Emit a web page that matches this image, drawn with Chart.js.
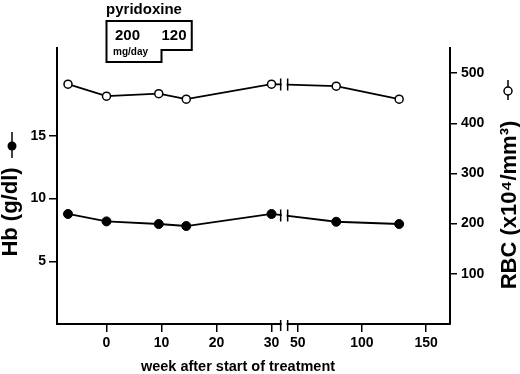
<!DOCTYPE html>
<html>
<head>
<meta charset="utf-8">
<script src="https://cdn.jsdelivr.net/npm/chart.js@4/dist/chart.umd.min.js"></script>
<style>
  html, body { margin: 0; padding: 0; background: #fff; }
</style>
</head>
<body>
<canvas id="chart" width="520" height="374"></canvas>
<script>
const weeks = [-7, 0, 9.5, 14.5, 30, 80, 129];
const hbValues = [8.77, 8.18, 7.97, 7.81, 8.77, 8.15, 7.97];
const rbcValues = [478, 454, 459, 448, 478, 474, 448];
const weekTicks = [0, 10, 20, 30, 50, 100, 150];
const hbTicks = [5, 10, 15];
const rbcTicks = [100, 200, 300, 400, 500];
const doseWeeks = [0, 10, 15.5];
const doseLabels = ["200", "120"];

// broken x axis: weeks before the break keep their value, later weeks are squeezed
const BREAK_AT = 50, BREAK_POS = 34.76, SQUEEZE = 0.2335, BREAK_MARK = 32.3;
function axisPos(w) { return w < 40 ? w : BREAK_POS + (w - BREAK_AT) * SQUEEZE; }

const FONT = "Liberation Sans";
Chart.defaults.font.family = FONT;
Chart.defaults.color = "#000";

function points(values) {
  return weeks.map((w, i) => ({ x: axisPos(w), y: values[i] }));
}

const decor = {
  id: "decor",
  afterDraw(chart) {
    const ctx = chart.ctx, x = chart.scales.x, area = chart.chartArea;
    const xb = x.getPixelForValue(BREAK_MARK), gap = 3.5;
    ctx.save();
    ctx.strokeStyle = "#000";
    ctx.fillStyle = "#fff";

    // break marks on each series line
    chart.data.datasets.forEach((ds, i) => {
      const pts = chart.getDatasetMeta(i).data;
      const a = pts[4], b = pts[5];
      const yb = a.y + (b.y - a.y) * (xb - a.x) / (b.x - a.x);
      ctx.fillStyle = "#fff";
      ctx.fillRect(xb - gap + 1, yb - 8, 2 * gap - 2, 16);
      ctx.lineWidth = 1.5;
      ctx.beginPath();
      ctx.moveTo(xb - gap, yb - 6); ctx.lineTo(xb - gap, yb + 6);
      ctx.moveTo(xb + gap, yb - 6); ctx.lineTo(xb + gap, yb + 6);
      ctx.stroke();
    });

    // break on the x axis
    ctx.fillRect(xb - gap + 1, area.bottom - 3, 2 * gap - 2, 6);
    ctx.beginPath();
    ctx.moveTo(xb - gap, area.bottom - 4); ctx.lineTo(xb - gap, area.bottom + 7);
    ctx.moveTo(xb + gap, area.bottom - 4); ctx.lineTo(xb + gap, area.bottom + 7);
    ctx.stroke();

    // pyridoxine dose box
    const x0 = x.getPixelForValue(axisPos(doseWeeks[0]));
    const x1 = x.getPixelForValue(axisPos(doseWeeks[1]));
    const x2 = x.getPixelForValue(axisPos(doseWeeks[2]));
    ctx.lineWidth = 2;
    ctx.beginPath();
    ctx.moveTo(x0, 21); ctx.lineTo(x2, 21); ctx.lineTo(x2, 50);
    ctx.lineTo(x1, 50); ctx.lineTo(x1, 62); ctx.lineTo(x0, 62);
    ctx.closePath();
    ctx.stroke();

    ctx.fillStyle = "#000";
    ctx.textAlign = "center";
    ctx.textBaseline = "middle";
    ctx.font = "bold 15px " + FONT;
    ctx.fillText("pyridoxine", 144, 10);
    ctx.fillText(doseLabels[0], 127.5, 36);
    ctx.fillText(doseLabels[1], 174, 36);
    ctx.font = "bold 10px " + FONT;
    ctx.fillText("mg/day", 130.5, 52);

    // x axis title
    ctx.font = "bold 14.5px " + FONT;
    ctx.fillText("week after start of treatment", 238, 367);

    // Hb title and symbol
    ctx.lineWidth = 1.5;
    ctx.beginPath();
    ctx.moveTo(12, 132); ctx.lineTo(12, 158);
    ctx.stroke();
    ctx.beginPath();
    ctx.arc(12, 146, 4.5, 0, Math.PI * 2);
    ctx.fill();
    ctx.save();
    ctx.translate(11, 212);
    ctx.rotate(-Math.PI / 2);
    ctx.font = "bold 22px " + FONT;
    ctx.fillText("Hb (g/dl)", 0, 0);
    ctx.restore();

    // RBC title and symbol
    ctx.beginPath();
    ctx.moveTo(508, 80); ctx.lineTo(508, 100);
    ctx.stroke();
    ctx.beginPath();
    ctx.arc(508, 91, 4, 0, Math.PI * 2);
    ctx.fillStyle = "#fff";
    ctx.fill();
    ctx.stroke();
    ctx.fillStyle = "#000";
    ctx.translate(510, 205);
    ctx.rotate(-Math.PI / 2);
    ctx.font = "bold 22px " + FONT;
    ctx.fillText("RBC (x10\u2074/mm\u00b3)", 0, 0);
    ctx.restore();
  }
};

const tickFont = { family: FONT, weight: "bold", size: 14 };

new Chart(document.getElementById("chart"), {
  type: "line",
  data: {
    datasets: [
      {
        label: "Hb",
        data: points(hbValues),
        yAxisID: "yHb",
        borderColor: "#000",
        borderWidth: 1.8,
        pointRadius: 4.5,
        pointBackgroundColor: "#000",
        pointBorderColor: "#000",
        pointBorderWidth: 1,
      },
      {
        label: "RBC",
        data: points(rbcValues),
        yAxisID: "yRbc",
        borderColor: "#000",
        borderWidth: 1.8,
        pointRadius: 4,
        pointBackgroundColor: "#fff",
        pointBorderColor: "#000",
        pointBorderWidth: 1.5,
      },
    ],
  },
  options: {
    responsive: false,
    animation: false,
    devicePixelRatio: 1,
    layout: { padding: { top: 48, left: 0, right: 0, bottom: 0 } },
    plugins: { legend: { display: false }, tooltip: { enabled: false } },
    scales: {
      x: {
        type: "linear",
        min: -9,
        max: 62.45,
        afterBuildTicks: s => { s.ticks = weekTicks.map(w => ({ value: axisPos(w) })); },
        afterFit: s => { s.height = 50; },
        grid: { drawOnChartArea: false, color: "#000", lineWidth: 1.5, tickLength: 8 },
        border: { color: "#000", width: 2 },
        ticks: {
          autoSkip: false,
          maxRotation: 0,
          padding: 3,
          font: tickFont,
          callback: (v, i) => weekTicks[i],
        },
      },
      yHb: {
        position: "left",
        min: 0,
        max: 22,
        afterBuildTicks: s => { s.ticks = hbTicks.map(v => ({ value: v })); },
        afterFit: s => { s.width = 57; },
        grid: { drawOnChartArea: false, color: "#000", lineWidth: 1.5, tickLength: 8 },
        border: { color: "#000", width: 2 },
        ticks: { padding: 3, font: tickFont },
      },
      yRbc: {
        position: "right",
        min: 0,
        max: 550,
        afterBuildTicks: s => { s.ticks = rbcTicks.map(v => ({ value: v })); },
        afterFit: s => { s.width = 70; },
        grid: { drawOnChartArea: false, color: "#000", lineWidth: 1.5, tickLength: 7 },
        border: { color: "#000", width: 2 },
        ticks: { padding: 4, font: tickFont },
      },
    },
  },
  plugins: [decor],
});
</script>
</body>
</html>
